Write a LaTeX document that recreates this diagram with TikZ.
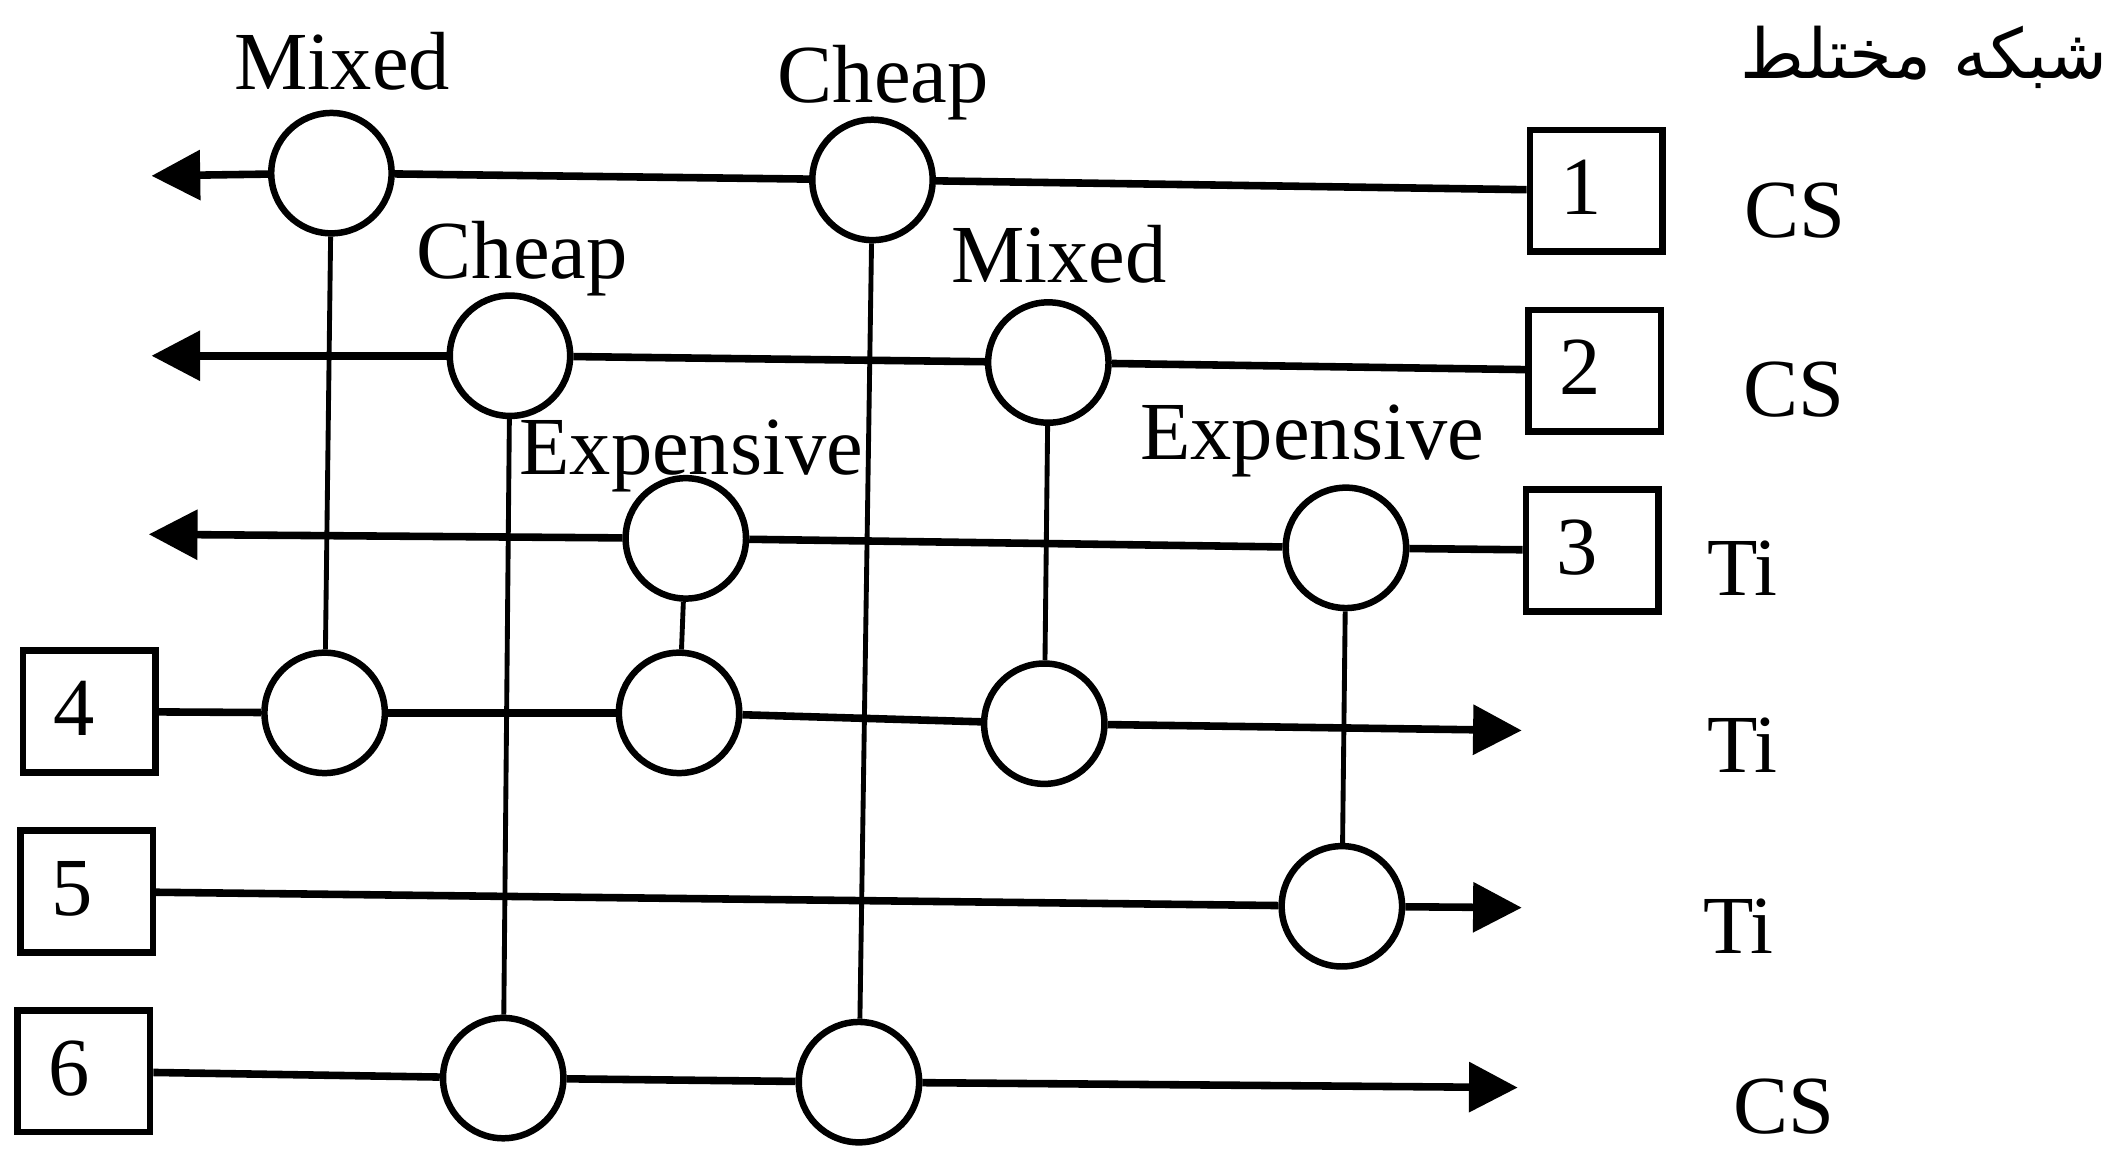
\documentclass[tikz,border=0pt]{standalone}
\usepackage{fontspec}
\setmainfont{Liberation Serif}
\newfontfamily\arabicfont[Script=Arabic]{DejaVu Sans}
\TeXXeTstate=1
\usetikzlibrary{arrows.meta}
\newcommand{\lblfont}{\fontsize{30.5}{36}\selectfont}
\newcommand{\boxnum}[1]{\raisebox{2.5pt}{#1}\kern11pt\relax}
\tikzset{
  hub/.style={circle, draw, line width=2.4pt, minimum size=44.5pt, inner sep=0pt, fill=white},
  unitbox/.style={rectangle, draw, line width=2.4pt, minimum width=49pt, minimum height=45pt, inner sep=0pt, font=\lblfont},
  lbl/.style={font=\lblfont, inner sep=0pt},
  hline/.style={line width=2.8pt},
  vline/.style={line width=1.8pt},
  arr/.style={hline, -{Triangle[length=18pt,width=18pt]}}
}
\begin{document}
\begin{tikzpicture}[x=0.5pt,y=-0.5pt]
\useasboundingbox (0,0) rectangle (1568,851);
% boxes
\node[unitbox] (b1) at (1180,141) {\boxnum{1}};
\node[unitbox] (b2) at (1179,274) {\boxnum{2}};
\node[unitbox] (b3) at (1177,407) {\boxnum{3}};
\node[unitbox] (b4) at (66,526) {\boxnum{4}};
\node[unitbox] (b5) at (64,659) {\boxnum{5}};
\node[unitbox] (b6) at (62,792) {\boxnum{6}};
% hubs
\node[hub] (c11) at (245,128) {};
\node[hub] (c12) at (645,133) {};
\node[hub] (c21) at (377,263) {};
\node[hub] (c22) at (775,268) {};
\node[hub] (c31) at (507,398) {};
\node[hub] (c32) at (995,405) {};
\node[hub] (c41) at (240,527) {};
\node[hub] (c42) at (502,527) {};
\node[hub] (c43) at (772,535) {};
\node[hub] (c51) at (992,670) {};
\node[hub] (c61) at (372,797) {};
\node[hub] (c62) at (635,800) {};
% arrow ends
\coordinate (a1) at (112,130);
\coordinate (a2) at (112,263);
\coordinate (a3) at (110,395);
\coordinate (a4) at (1125,540);
\coordinate (a5) at (1125,671);
\coordinate (a6) at (1122,804);
% hub labels
\node[lbl, anchor=base] (l11) at (253,66) {Mixed};
\node[lbl, anchor=base] (l12) at (653,76) {Cheap};
\node[lbl, anchor=base] (l21) at (386,206) {Cheap};
\node[lbl, anchor=base] (l22) at (783,209) {Mixed};
\node[lbl, anchor=base] (l31) at (511,351) {Expensive};
\node[lbl, anchor=base] (l32) at (970,340) {Expensive};
% right labels
\node[lbl] (r1) at (1327,156) {CS};
\node[lbl] (r2) at (1326,288) {CS};
\node[lbl] (r3) at (1288,420) {Ti};
\node[lbl] (r4) at (1288,551) {Ti};
\node[lbl] (r5) at (1285,685) {Ti};
\node[lbl] (r6) at (1319,818) {CS};
% title
\node[inner sep=0pt, anchor=base east, font=\fontsize{25.5}{31}\arabicfont] (title) at (1558,58) {\beginR شبکه مختلط\endR};
% horizontal lines
\draw[hline] (b1) -- (c12);
\draw[hline] (c12) -- (c11);
\draw[arr] (c11) -- (a1);
\draw[hline] (b2) -- (c22);
\draw[hline] (c22) -- (c21);
\draw[arr] (c21) -- (a2);
\draw[hline] (b3) -- (c32);
\draw[hline] (c32) -- (c31);
\draw[arr] (c31) -- (a3);
\draw[hline] (b4) -- (c41);
\draw[hline] (c41) -- (c42);
\draw[hline] (c42) -- (c43);
\draw[arr] (c43) -- (a4);
\draw[hline] (b5) -- (c51);
\draw[arr] (c51) -- (a5);
\draw[hline] (b6) -- (c61);
\draw[hline] (c61) -- (c62);
\draw[arr] (c62) -- (a6);
% vertical lines
\draw[vline] (c11) -- (c41);
\draw[vline] (c21) -- (c61);
\draw[vline] (c31) -- (c42);
\draw[vline] (c12) -- (c62);
\draw[vline] (c22) -- (c43);
\draw[vline] (c32) -- (c51);
\end{tikzpicture}
\end{document}
